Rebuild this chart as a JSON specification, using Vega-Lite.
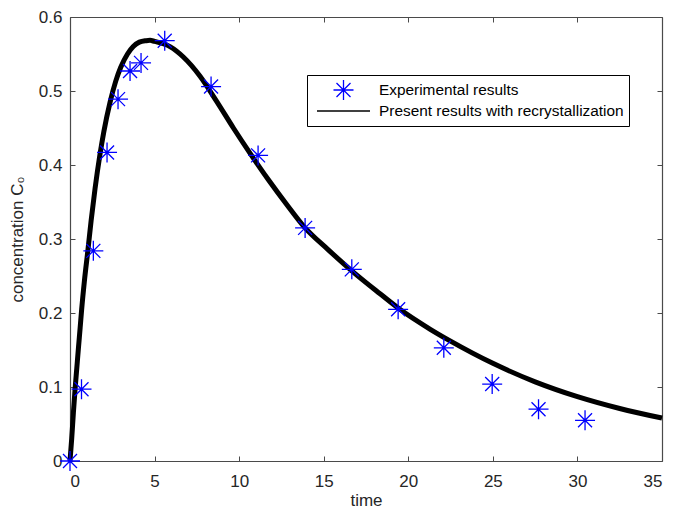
{
  "$schema": "https://vega.github.io/schema/vega-lite/v6.json",
  "width": 592,
  "height": 444,
  "autosize": {"type": "none"},
  "padding": {"left": 70, "top": 17, "right": 11, "bottom": 51},
  "background": "white",
  "config": {
    "font": "Liberation Sans",
    "view": {"stroke": null},
    "axis": {
      "grid": false,
      "domainColor": "#4a4a4a",
      "domainWidth": 1.2,
      "tickColor": "#4a4a4a",
      "tickSize": -5,
      "tickWidth": 1,
      "labelFont": "Liberation Sans",
      "labelFontSize": 17,
      "labelColor": "#262626",
      "titleFont": "Liberation Sans",
      "titleFontSize": 17,
      "titleFontWeight": "normal",
      "titleColor": "#262626"
    }
  },
  "datasets": {
    "model": [
      {"time": 0, "c": 0},
      {"time": 0.1, "c": 0.03},
      {"time": 0.2, "c": 0.065},
      {"time": 0.3, "c": 0.097},
      {"time": 0.4, "c": 0.125},
      {"time": 0.5, "c": 0.153},
      {"time": 0.6, "c": 0.18},
      {"time": 0.69, "c": 0.205},
      {"time": 0.85, "c": 0.243},
      {"time": 1.06, "c": 0.285},
      {"time": 1.25, "c": 0.325},
      {"time": 1.48, "c": 0.368},
      {"time": 1.77, "c": 0.414},
      {"time": 2.0, "c": 0.445},
      {"time": 2.37, "c": 0.485},
      {"time": 2.7, "c": 0.513},
      {"time": 3.0, "c": 0.532},
      {"time": 3.4, "c": 0.55},
      {"time": 3.74, "c": 0.56},
      {"time": 4.1, "c": 0.566},
      {"time": 4.5, "c": 0.568},
      {"time": 4.73, "c": 0.5685},
      {"time": 5.0, "c": 0.567},
      {"time": 5.91, "c": 0.56},
      {"time": 6.7, "c": 0.546},
      {"time": 7.69, "c": 0.52},
      {"time": 8.67, "c": 0.486},
      {"time": 9.66, "c": 0.45},
      {"time": 10.64, "c": 0.416},
      {"time": 11.73, "c": 0.38},
      {"time": 12.8, "c": 0.347},
      {"time": 13.9, "c": 0.315},
      {"time": 15.24, "c": 0.286},
      {"time": 16.66, "c": 0.257},
      {"time": 18.33, "c": 0.226},
      {"time": 19.5, "c": 0.205},
      {"time": 21.3, "c": 0.178},
      {"time": 22.5, "c": 0.162},
      {"time": 25, "c": 0.132},
      {"time": 27.5, "c": 0.107},
      {"time": 30, "c": 0.087},
      {"time": 32.5, "c": 0.071},
      {"time": 35, "c": 0.058}
    ],
    "exp": [
      {"time": 0, "c": 0},
      {"time": 0.68, "c": 0.097},
      {"time": 1.38, "c": 0.284},
      {"time": 2.19, "c": 0.417},
      {"time": 2.84, "c": 0.489},
      {"time": 3.55, "c": 0.527},
      {"time": 4.2, "c": 0.538},
      {"time": 5.6, "c": 0.568},
      {"time": 8.34, "c": 0.506},
      {"time": 11.12, "c": 0.413},
      {"time": 13.9, "c": 0.315},
      {"time": 16.66, "c": 0.259},
      {"time": 19.4, "c": 0.205},
      {"time": 22.1, "c": 0.153},
      {"time": 24.96, "c": 0.104},
      {"time": 27.7, "c": 0.07},
      {"time": 30.45, "c": 0.055}
    ]
  },
  "layer": [
    {
      "data": {"name": "model"},
      "transform": [{"calculate": "'Present results with recrystallization'", "as": "series"}],
      "mark": {"type": "line", "strokeWidth": 5, "interpolate": "monotone"},
      "encoding": {
        "x": {"field": "time", "type": "quantitative", "scale": {"domain": [0, 35], "nice": false},
          "axis": {"orient": "bottom", "title": "time", "values": [0, 5, 10, 15, 20, 25, 30, 35], "labelPadding": 17, "titlePadding": 3}},
        "y": {"field": "c", "type": "quantitative", "scale": {"domain": [0, 0.6], "nice": false},
          "axis": {"orient": "left", "title": "concentration C₀", "values": [0, 0.1, 0.2, 0.3, 0.4, 0.5, 0.6], "format": "~g", "labelPadding": 13, "titlePadding": 12}},
        "color": {"field": "series", "type": "nominal",
          "scale": {"domain": ["Experimental results", "Present results with recrystallization"], "range": ["#0000ff", "#000000"]},
          "legend": {"title": null, "orient": "none", "legendX": 237, "legendY": 58, "fillColor": "white", "strokeColor": "#000000", "padding": 5, "labelFontSize": 15.4, "labelColor": "#000000", "labelLimit": 400, "labelFont": "Liberation Sans", "symbolStrokeWidth": 1.3, "rowPadding": 1, "clipHeight": 20, "symbolOffset": 4, "labelOffset": 8}}
      }
    },
    {
      "data": {"name": "exp"},
      "transform": [{"calculate": "'Experimental results'", "as": "series"}],
      "mark": {"type": "point", "filled": false, "strokeWidth": 1.3, "opacity": 1},
      "encoding": {
        "x": {"field": "time", "type": "quantitative",
          "axis": {"orient": "top", "title": null, "labels": false, "values": [0, 5, 10, 15, 20, 25, 30, 35]}},
        "y": {"field": "c", "type": "quantitative",
          "axis": {"orient": "right", "title": null, "labels": false, "values": [0, 0.1, 0.2, 0.3, 0.4, 0.5, 0.6]}},
        "color": {"field": "series", "type": "nominal"},
        "shape": {"field": "series", "type": "nominal",
          "scale": {"domain": ["Experimental results", "Present results with recrystallization"], "range": ["M-1,0L1,0M0,-1L0,1M-0.7,-0.7L0.7,0.7M-0.7,0.7L0.7,-0.7", "stroke"]}},
        "size": {"field": "series", "type": "ordinal",
          "scale": {"domain": ["Experimental results", "Present results with recrystallization"], "range": [400, 2809]}}
      }
    }
  ],
  "resolve": {"axis": {"x": "independent", "y": "independent"}}
}
